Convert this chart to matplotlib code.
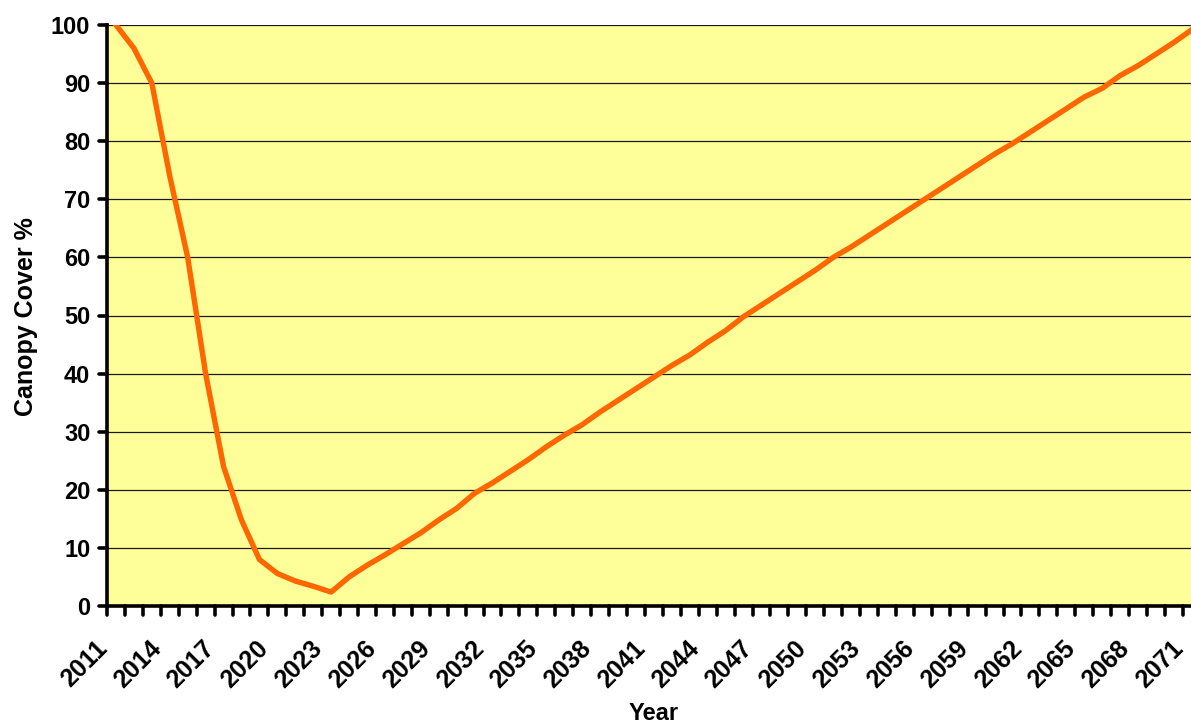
import matplotlib

matplotlib.use("agg")

import matplotlib.pyplot as plt
import matplotlib.transforms as mtransforms
from matplotlib.markers import MarkerStyle, TICKDOWN, TICKLEFT

# canopy cover per year, 2011..2071
years = list(range(2011, 2072))
cover = [
    100, 96, 90, 74, 60, 40, 24, 14.8, 8, 5.6,
    4.3, 3.4, 2.4, 5, 7, 8.8, 10.7, 12.6, 14.8, 16.8,
    19.4, 21.2, 23.2, 25.2, 27.4, 29.4, 31.2, 33.4, 35.4, 37.4,
    39.4, 41.4, 43.2, 45.4, 47.4, 49.8, 51.8, 53.8, 55.8, 57.8,
    60, 61.8, 63.8, 65.8, 67.8, 69.8, 71.8, 73.8, 75.8, 77.8,
    79.6, 81.6, 83.6, 85.6, 87.6, 89.1, 91.3, 93, 95, 97,
    99.2,
]
label_every = 3
y_ticks = list(range(0, 101, 10))

FONT = "Liberation Sans"
LINE = "#FF6600"
FACE = "#FFFF99"

W, H = 1191, 725
fig = plt.figure(figsize=(W / 100, H / 100), dpi=100)
# plot area runs a little past the right edge of the canvas
ax = fig.add_axes([107 / W, 119 / H, 1093.8 / W, 581 / H])
ax.set_facecolor(FACE)

x = list(range(len(years)))
ax.plot(x, cover, color=LINE, lw=3.9, solid_joinstyle="round", zorder=3)

ax.set_xlim(-0.5, len(years) - 0.5)
ax.set_ylim(0, 100)

# category axis: ticks sit on the boundaries between years
bounds = [i - 0.5 for i in range(len(years) + 1)]
labels = [str(years[i]) if i < len(years) and i % label_every == 0 else "" for i in range(len(bounds))]
ax.set_xticks(bounds)
ax.set_xticklabels(labels, rotation=45, ha="right", va="top", rotation_mode="anchor",
                   fontsize=18, fontweight="bold", family=FONT)
ax.tick_params(axis="x", length=6.5, width=2.6, pad=15, color="black")
shift = mtransforms.ScaledTranslation(-12 / 100, 0, fig.dpi_scale_trans)
for lab in ax.get_xticklabels():
    lab.set_transform(lab.get_transform() + shift)

ax.set_yticks(y_ticks)
ax.set_yticklabels([str(v) for v in y_ticks], fontsize=17, fontweight="bold", family=FONT)
ax.tick_params(axis="y", length=6, width=2.6, pad=6, color="black")

for t in ax.xaxis.get_major_ticks():
    t.tick1line.set_marker(MarkerStyle(TICKDOWN, capstyle="round"))
for t in ax.yaxis.get_major_ticks():
    t.tick1line.set_marker(MarkerStyle(TICKLEFT, capstyle="round"))

ax.grid(axis="y", color="#1a1a1a", lw=0.9, zorder=1)
ax.set_axisbelow(True)

for side in ("top", "right"):
    ax.spines[side].set_visible(False)
for side in ("left", "bottom"):
    ax.spines[side].set_linewidth(2.6)
    ax.spines[side].set_color("black")
    ax.spines[side].set_zorder(4)

fig.text(654 / W, 1 - 702 / H, "Year", ha="center", va="top",
         fontsize=17, fontweight="bold", family=FONT)
fig.text(26 / W, 1 - 317 / H, "Canopy Cover %", ha="center", va="center", rotation=90,
         fontsize=18, fontweight="bold", family=FONT)

fig.savefig("out.png", dpi=100)
